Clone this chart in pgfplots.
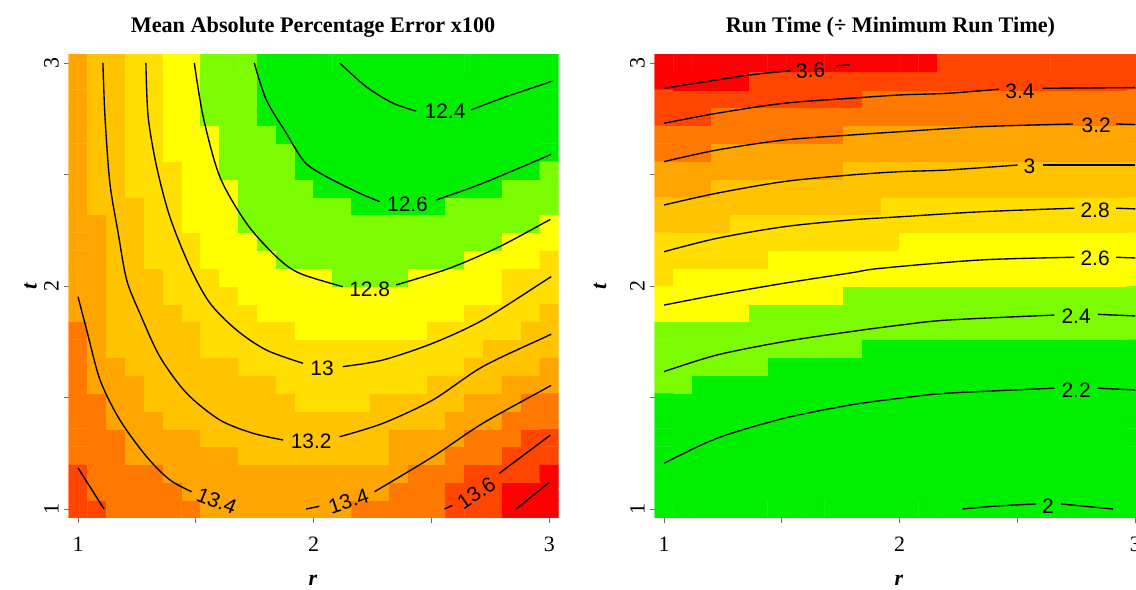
\documentclass[border=0pt]{standalone}
\usepackage{pgfplots}
\pgfplotsset{compat=1.18}
\usepackage{pgfplotstable}
\usepackage{fontspec}
\setmainfont{Liberation Serif}
\newfontfamily\sansf{Liberation Sans}
\definecolor{tickgray}{RGB}{110,110,110}

% left panel: class index of each cell (i = column, j = row)
\pgfplotstableread[row sep=\\]{
i j c\\
0 0 7\\ 1 0 7\\ 2 0 6\\ 3 0 6\\ 4 0 6\\ 5 0 6\\ 6 0 6\\ 7 0 5\\ 8 0 5\\ 9 0 5\\ 10 0 5\\ 11 0 5\\ 12 0 5\\ 13 0 5\\ 14 0 5\\ 15 0 6\\ 16 0 6\\ 17 0 6\\ 18 0 6\\ 19 0 6\\ 20 0 7\\ 21 0 7\\ 22 0 7\\ 23 0 8\\ 24 0 8\\ 25 0 8\\
0 1 7\\ 1 1 6\\ 2 1 6\\ 3 1 6\\ 4 1 6\\ 5 1 6\\ 6 1 5\\ 7 1 5\\ 8 1 5\\ 9 1 5\\ 10 1 5\\ 11 1 5\\ 12 1 5\\ 13 1 5\\ 14 1 5\\ 15 1 5\\ 16 1 5\\ 17 1 6\\ 18 1 6\\ 19 1 6\\ 20 1 7\\ 21 1 7\\ 22 1 7\\ 23 1 8\\ 24 1 8\\ 25 1 8\\
0 2 7\\ 1 2 6\\ 2 2 6\\ 3 2 6\\ 4 2 6\\ 5 2 5\\ 6 2 5\\ 7 2 5\\ 8 2 5\\ 9 2 5\\ 10 2 5\\ 11 2 5\\ 12 2 5\\ 13 2 5\\ 14 2 5\\ 15 2 5\\ 16 2 5\\ 17 2 5\\ 18 2 6\\ 19 2 6\\ 20 2 6\\ 21 2 7\\ 22 2 7\\ 23 2 7\\ 24 2 7\\ 25 2 8\\
0 3 6\\ 1 3 6\\ 2 3 6\\ 3 3 5\\ 4 3 5\\ 5 3 5\\ 6 3 5\\ 7 3 5\\ 8 3 5\\ 9 3 4\\ 10 3 4\\ 11 3 4\\ 12 3 4\\ 13 3 4\\ 14 3 4\\ 15 3 4\\ 16 3 4\\ 17 3 5\\ 18 3 5\\ 19 3 5\\ 20 3 6\\ 21 3 6\\ 22 3 6\\ 23 3 7\\ 24 3 7\\ 25 3 7\\
0 4 6\\ 1 4 6\\ 2 4 6\\ 3 4 5\\ 4 4 5\\ 5 4 5\\ 6 4 5\\ 7 4 4\\ 8 4 4\\ 9 4 4\\ 10 4 4\\ 11 4 4\\ 12 4 4\\ 13 4 4\\ 14 4 4\\ 15 4 4\\ 16 4 4\\ 17 4 5\\ 18 4 5\\ 19 4 5\\ 20 4 5\\ 21 4 6\\ 22 4 6\\ 23 4 6\\ 24 4 7\\ 25 4 7\\
0 5 6\\ 1 5 6\\ 2 5 5\\ 3 5 5\\ 4 5 5\\ 5 5 4\\ 6 5 4\\ 7 5 4\\ 8 5 4\\ 9 5 4\\ 10 5 4\\ 11 5 4\\ 12 5 4\\ 13 5 4\\ 14 5 4\\ 15 5 4\\ 16 5 4\\ 17 5 4\\ 18 5 4\\ 19 5 4\\ 20 5 5\\ 21 5 5\\ 22 5 5\\ 23 5 6\\ 24 5 6\\ 25 5 6\\
0 6 6\\ 1 6 6\\ 2 6 5\\ 3 6 5\\ 4 6 4\\ 5 6 4\\ 6 6 4\\ 7 6 4\\ 8 6 4\\ 9 6 4\\ 10 6 4\\ 11 6 4\\ 12 6 3\\ 13 6 3\\ 14 6 3\\ 15 6 3\\ 16 6 4\\ 17 6 4\\ 18 6 4\\ 19 6 4\\ 20 6 4\\ 21 6 5\\ 22 6 5\\ 23 6 5\\ 24 6 6\\ 25 6 6\\
0 7 6\\ 1 7 5\\ 2 7 5\\ 3 7 5\\ 4 7 4\\ 5 7 4\\ 6 7 4\\ 7 7 4\\ 8 7 4\\ 9 7 4\\ 10 7 4\\ 11 7 3\\ 12 7 3\\ 13 7 3\\ 14 7 3\\ 15 7 3\\ 16 7 3\\ 17 7 3\\ 18 7 3\\ 19 7 4\\ 20 7 4\\ 21 7 4\\ 22 7 4\\ 23 7 5\\ 24 7 5\\ 25 7 5\\
0 8 6\\ 1 8 5\\ 2 8 5\\ 3 8 4\\ 4 8 4\\ 5 8 4\\ 6 8 4\\ 7 8 4\\ 8 8 4\\ 9 8 3\\ 10 8 3\\ 11 8 3\\ 12 8 3\\ 13 8 3\\ 14 8 3\\ 15 8 3\\ 16 8 3\\ 17 8 3\\ 18 8 3\\ 19 8 3\\ 20 8 3\\ 21 8 4\\ 22 8 4\\ 23 8 4\\ 24 8 4\\ 25 8 5\\
0 9 6\\ 1 9 5\\ 2 9 4\\ 3 9 4\\ 4 9 4\\ 5 9 4\\ 6 9 4\\ 7 9 3\\ 8 9 3\\ 9 9 3\\ 10 9 3\\ 11 9 3\\ 12 9 3\\ 13 9 3\\ 14 9 3\\ 15 9 3\\ 16 9 3\\ 17 9 3\\ 18 9 3\\ 19 9 3\\ 20 9 3\\ 21 9 3\\ 22 9 4\\ 23 9 4\\ 24 9 4\\ 25 9 4\\
0 10 6\\ 1 10 5\\ 2 10 4\\ 3 10 4\\ 4 10 4\\ 5 10 4\\ 6 10 4\\ 7 10 3\\ 8 10 3\\ 9 10 3\\ 10 10 3\\ 11 10 3\\ 12 10 2\\ 13 10 2\\ 14 10 2\\ 15 10 2\\ 16 10 2\\ 17 10 2\\ 18 10 2\\ 19 10 3\\ 20 10 3\\ 21 10 3\\ 22 10 3\\ 23 10 3\\ 24 10 4\\ 25 10 4\\
0 11 5\\ 1 11 5\\ 2 11 4\\ 3 11 4\\ 4 11 4\\ 5 11 4\\ 6 11 3\\ 7 11 3\\ 8 11 3\\ 9 11 3\\ 10 11 2\\ 11 11 2\\ 12 11 2\\ 13 11 2\\ 14 11 2\\ 15 11 2\\ 16 11 2\\ 17 11 2\\ 18 11 2\\ 19 11 2\\ 20 11 2\\ 21 11 3\\ 22 11 3\\ 23 11 3\\ 24 11 3\\ 25 11 4\\
0 12 5\\ 1 12 5\\ 2 12 4\\ 3 12 4\\ 4 12 4\\ 5 12 3\\ 6 12 3\\ 7 12 3\\ 8 12 3\\ 9 12 2\\ 10 12 2\\ 11 12 2\\ 12 12 2\\ 13 12 2\\ 14 12 2\\ 15 12 2\\ 16 12 2\\ 17 12 2\\ 18 12 2\\ 19 12 2\\ 20 12 2\\ 21 12 2\\ 22 12 2\\ 23 12 3\\ 24 12 3\\ 25 12 3\\
0 13 5\\ 1 13 5\\ 2 13 4\\ 3 13 4\\ 4 13 4\\ 5 13 3\\ 6 13 3\\ 7 13 3\\ 8 13 2\\ 9 13 2\\ 10 13 2\\ 11 13 2\\ 12 13 2\\ 13 13 2\\ 14 13 1\\ 15 13 1\\ 16 13 1\\ 17 13 1\\ 18 13 2\\ 19 13 2\\ 20 13 2\\ 21 13 2\\ 22 13 2\\ 23 13 3\\ 24 13 3\\ 25 13 3\\
0 14 5\\ 1 14 5\\ 2 14 4\\ 3 14 4\\ 4 14 3\\ 5 14 3\\ 6 14 3\\ 7 14 2\\ 8 14 2\\ 9 14 2\\ 10 14 2\\ 11 14 1\\ 12 14 1\\ 13 14 1\\ 14 14 1\\ 15 14 1\\ 16 14 1\\ 17 14 1\\ 18 14 1\\ 19 14 1\\ 20 14 1\\ 21 14 2\\ 22 14 2\\ 23 14 2\\ 24 14 2\\ 25 14 3\\
0 15 5\\ 1 15 5\\ 2 15 4\\ 3 15 4\\ 4 15 3\\ 5 15 3\\ 6 15 3\\ 7 15 2\\ 8 15 2\\ 9 15 2\\ 10 15 1\\ 11 15 1\\ 12 15 1\\ 13 15 1\\ 14 15 1\\ 15 15 1\\ 16 15 1\\ 17 15 1\\ 18 15 1\\ 19 15 1\\ 20 15 1\\ 21 15 1\\ 22 15 1\\ 23 15 2\\ 24 15 2\\ 25 15 2\\
0 16 5\\ 1 16 5\\ 2 16 4\\ 3 16 4\\ 4 16 3\\ 5 16 3\\ 6 16 2\\ 7 16 2\\ 8 16 2\\ 9 16 1\\ 10 16 1\\ 11 16 1\\ 12 16 1\\ 13 16 1\\ 14 16 1\\ 15 16 1\\ 16 16 1\\ 17 16 1\\ 18 16 1\\ 19 16 1\\ 20 16 1\\ 21 16 1\\ 22 16 1\\ 23 16 1\\ 24 16 1\\ 25 16 2\\
0 17 5\\ 1 17 4\\ 2 17 4\\ 3 17 4\\ 4 17 3\\ 5 17 3\\ 6 17 2\\ 7 17 2\\ 8 17 2\\ 9 17 1\\ 10 17 1\\ 11 17 1\\ 12 17 1\\ 13 17 1\\ 14 17 1\\ 15 17 0\\ 16 17 0\\ 17 17 0\\ 18 17 0\\ 19 17 0\\ 20 17 1\\ 21 17 1\\ 22 17 1\\ 23 17 1\\ 24 17 1\\ 25 17 1\\
0 18 5\\ 1 18 4\\ 2 18 4\\ 3 18 3\\ 4 18 3\\ 5 18 3\\ 6 18 2\\ 7 18 2\\ 8 18 2\\ 9 18 1\\ 10 18 1\\ 11 18 1\\ 12 18 1\\ 13 18 0\\ 14 18 0\\ 15 18 0\\ 16 18 0\\ 17 18 0\\ 18 18 0\\ 19 18 0\\ 20 18 0\\ 21 18 0\\ 22 18 0\\ 23 18 1\\ 24 18 1\\ 25 18 1\\
0 19 5\\ 1 19 4\\ 2 19 4\\ 3 19 3\\ 4 19 3\\ 5 19 3\\ 6 19 2\\ 7 19 2\\ 8 19 1\\ 9 19 1\\ 10 19 1\\ 11 19 1\\ 12 19 0\\ 13 19 0\\ 14 19 0\\ 15 19 0\\ 16 19 0\\ 17 19 0\\ 18 19 0\\ 19 19 0\\ 20 19 0\\ 21 19 0\\ 22 19 0\\ 23 19 0\\ 24 19 0\\ 25 19 1\\
0 20 5\\ 1 20 4\\ 2 20 4\\ 3 20 3\\ 4 20 3\\ 5 20 2\\ 6 20 2\\ 7 20 2\\ 8 20 1\\ 9 20 1\\ 10 20 1\\ 11 20 1\\ 12 20 0\\ 13 20 0\\ 14 20 0\\ 15 20 0\\ 16 20 0\\ 17 20 0\\ 18 20 0\\ 19 20 0\\ 20 20 0\\ 21 20 0\\ 22 20 0\\ 23 20 0\\ 24 20 0\\ 25 20 0\\
0 21 5\\ 1 21 4\\ 2 21 4\\ 3 21 3\\ 4 21 3\\ 5 21 2\\ 6 21 2\\ 7 21 2\\ 8 21 1\\ 9 21 1\\ 10 21 1\\ 11 21 0\\ 12 21 0\\ 13 21 0\\ 14 21 0\\ 15 21 0\\ 16 21 0\\ 17 21 0\\ 18 21 0\\ 19 21 0\\ 20 21 0\\ 21 21 0\\ 22 21 0\\ 23 21 0\\ 24 21 0\\ 25 21 0\\
0 22 5\\ 1 22 4\\ 2 22 4\\ 3 22 3\\ 4 22 3\\ 5 22 2\\ 6 22 2\\ 7 22 1\\ 8 22 1\\ 9 22 1\\ 10 22 0\\ 11 22 0\\ 12 22 0\\ 13 22 0\\ 14 22 0\\ 15 22 0\\ 16 22 0\\ 17 22 0\\ 18 22 0\\ 19 22 0\\ 20 22 0\\ 21 22 0\\ 22 22 0\\ 23 22 0\\ 24 22 0\\ 25 22 0\\
0 23 5\\ 1 23 4\\ 2 23 4\\ 3 23 3\\ 4 23 3\\ 5 23 2\\ 6 23 2\\ 7 23 1\\ 8 23 1\\ 9 23 1\\ 10 23 0\\ 11 23 0\\ 12 23 0\\ 13 23 0\\ 14 23 0\\ 15 23 0\\ 16 23 0\\ 17 23 0\\ 18 23 0\\ 19 23 0\\ 20 23 0\\ 21 23 0\\ 22 23 0\\ 23 23 0\\ 24 23 0\\ 25 23 0\\
0 24 5\\ 1 24 4\\ 2 24 4\\ 3 24 3\\ 4 24 3\\ 5 24 2\\ 6 24 2\\ 7 24 1\\ 8 24 1\\ 9 24 1\\ 10 24 0\\ 11 24 0\\ 12 24 0\\ 13 24 0\\ 14 24 0\\ 15 24 0\\ 16 24 0\\ 17 24 0\\ 18 24 0\\ 19 24 0\\ 20 24 0\\ 21 24 0\\ 22 24 0\\ 23 24 0\\ 24 24 0\\ 25 24 0\\
0 25 5\\ 1 25 4\\ 2 25 4\\ 3 25 3\\ 4 25 3\\ 5 25 2\\ 6 25 2\\ 7 25 1\\ 8 25 1\\ 9 25 1\\ 10 25 0\\ 11 25 0\\ 12 25 0\\ 13 25 0\\ 14 25 0\\ 15 25 0\\ 16 25 0\\ 17 25 0\\ 18 25 0\\ 19 25 0\\ 20 25 0\\ 21 25 0\\ 22 25 0\\ 23 25 0\\ 24 25 0\\ 25 25 0\\
}\leftdata

% right panel
\pgfplotstableread[row sep=\\]{
i j c\\
0 0 0\\ 1 0 0\\ 2 0 0\\ 3 0 0\\ 4 0 0\\ 5 0 0\\ 6 0 0\\ 7 0 0\\ 8 0 0\\ 9 0 0\\ 10 0 0\\ 11 0 0\\ 12 0 0\\ 13 0 0\\ 14 0 0\\ 15 0 0\\ 16 0 0\\ 17 0 0\\ 18 0 0\\ 19 0 0\\ 20 0 0\\ 21 0 0\\ 22 0 0\\ 23 0 0\\ 24 0 0\\ 25 0 0\\
0 1 0\\ 1 1 0\\ 2 1 0\\ 3 1 0\\ 4 1 0\\ 5 1 0\\ 6 1 0\\ 7 1 0\\ 8 1 0\\ 9 1 0\\ 10 1 0\\ 11 1 0\\ 12 1 0\\ 13 1 0\\ 14 1 0\\ 15 1 0\\ 16 1 0\\ 17 1 0\\ 18 1 0\\ 19 1 0\\ 20 1 0\\ 21 1 0\\ 22 1 0\\ 23 1 0\\ 24 1 0\\ 25 1 0\\
0 2 0\\ 1 2 0\\ 2 2 0\\ 3 2 0\\ 4 2 0\\ 5 2 0\\ 6 2 0\\ 7 2 0\\ 8 2 0\\ 9 2 0\\ 10 2 0\\ 11 2 0\\ 12 2 0\\ 13 2 0\\ 14 2 0\\ 15 2 0\\ 16 2 0\\ 17 2 0\\ 18 2 0\\ 19 2 0\\ 20 2 0\\ 21 2 0\\ 22 2 0\\ 23 2 0\\ 24 2 0\\ 25 2 0\\
0 3 0\\ 1 3 0\\ 2 3 0\\ 3 3 0\\ 4 3 0\\ 5 3 0\\ 6 3 0\\ 7 3 0\\ 8 3 0\\ 9 3 0\\ 10 3 0\\ 11 3 0\\ 12 3 0\\ 13 3 0\\ 14 3 0\\ 15 3 0\\ 16 3 0\\ 17 3 0\\ 18 3 0\\ 19 3 0\\ 20 3 0\\ 21 3 0\\ 22 3 0\\ 23 3 0\\ 24 3 0\\ 25 3 0\\
0 4 0\\ 1 4 0\\ 2 4 0\\ 3 4 0\\ 4 4 0\\ 5 4 0\\ 6 4 0\\ 7 4 0\\ 8 4 0\\ 9 4 0\\ 10 4 0\\ 11 4 0\\ 12 4 0\\ 13 4 0\\ 14 4 0\\ 15 4 0\\ 16 4 0\\ 17 4 0\\ 18 4 0\\ 19 4 0\\ 20 4 0\\ 21 4 0\\ 22 4 0\\ 23 4 0\\ 24 4 0\\ 25 4 0\\
0 5 0\\ 1 5 0\\ 2 5 0\\ 3 5 0\\ 4 5 0\\ 5 5 0\\ 6 5 0\\ 7 5 0\\ 8 5 0\\ 9 5 0\\ 10 5 0\\ 11 5 0\\ 12 5 0\\ 13 5 0\\ 14 5 0\\ 15 5 0\\ 16 5 0\\ 17 5 0\\ 18 5 0\\ 19 5 0\\ 20 5 0\\ 21 5 0\\ 22 5 0\\ 23 5 0\\ 24 5 0\\ 25 5 0\\
0 6 0\\ 1 6 0\\ 2 6 0\\ 3 6 0\\ 4 6 0\\ 5 6 0\\ 6 6 0\\ 7 6 0\\ 8 6 0\\ 9 6 0\\ 10 6 0\\ 11 6 0\\ 12 6 0\\ 13 6 0\\ 14 6 0\\ 15 6 0\\ 16 6 0\\ 17 6 0\\ 18 6 0\\ 19 6 0\\ 20 6 0\\ 21 6 0\\ 22 6 0\\ 23 6 0\\ 24 6 0\\ 25 6 0\\
0 7 1\\ 1 7 1\\ 2 7 0\\ 3 7 0\\ 4 7 0\\ 5 7 0\\ 6 7 0\\ 7 7 0\\ 8 7 0\\ 9 7 0\\ 10 7 0\\ 11 7 0\\ 12 7 0\\ 13 7 0\\ 14 7 0\\ 15 7 0\\ 16 7 0\\ 17 7 0\\ 18 7 0\\ 19 7 0\\ 20 7 0\\ 21 7 0\\ 22 7 0\\ 23 7 0\\ 24 7 0\\ 25 7 0\\
0 8 1\\ 1 8 1\\ 2 8 1\\ 3 8 1\\ 4 8 1\\ 5 8 1\\ 6 8 0\\ 7 8 0\\ 8 8 0\\ 9 8 0\\ 10 8 0\\ 11 8 0\\ 12 8 0\\ 13 8 0\\ 14 8 0\\ 15 8 0\\ 16 8 0\\ 17 8 0\\ 18 8 0\\ 19 8 0\\ 20 8 0\\ 21 8 0\\ 22 8 0\\ 23 8 0\\ 24 8 0\\ 25 8 0\\
0 9 1\\ 1 9 1\\ 2 9 1\\ 3 9 1\\ 4 9 1\\ 5 9 1\\ 6 9 1\\ 7 9 1\\ 8 9 1\\ 9 9 1\\ 10 9 1\\ 11 9 0\\ 12 9 0\\ 13 9 0\\ 14 9 0\\ 15 9 0\\ 16 9 0\\ 17 9 0\\ 18 9 0\\ 19 9 0\\ 20 9 0\\ 21 9 0\\ 22 9 0\\ 23 9 0\\ 24 9 0\\ 25 9 0\\
0 10 1\\ 1 10 1\\ 2 10 1\\ 3 10 1\\ 4 10 1\\ 5 10 1\\ 6 10 1\\ 7 10 1\\ 8 10 1\\ 9 10 1\\ 10 10 1\\ 11 10 1\\ 12 10 1\\ 13 10 1\\ 14 10 1\\ 15 10 1\\ 16 10 1\\ 17 10 1\\ 18 10 1\\ 19 10 1\\ 20 10 1\\ 21 10 1\\ 22 10 1\\ 23 10 1\\ 24 10 1\\ 25 10 1\\
0 11 2\\ 1 11 2\\ 2 11 2\\ 3 11 2\\ 4 11 2\\ 5 11 1\\ 6 11 1\\ 7 11 1\\ 8 11 1\\ 9 11 1\\ 10 11 1\\ 11 11 1\\ 12 11 1\\ 13 11 1\\ 14 11 1\\ 15 11 1\\ 16 11 1\\ 17 11 1\\ 18 11 1\\ 19 11 1\\ 20 11 1\\ 21 11 1\\ 22 11 1\\ 23 11 1\\ 24 11 1\\ 25 11 1\\
0 12 2\\ 1 12 2\\ 2 12 2\\ 3 12 2\\ 4 12 2\\ 5 12 2\\ 6 12 2\\ 7 12 2\\ 8 12 2\\ 9 12 2\\ 10 12 1\\ 11 12 1\\ 12 12 1\\ 13 12 1\\ 14 12 1\\ 15 12 1\\ 16 12 1\\ 17 12 1\\ 18 12 1\\ 19 12 1\\ 20 12 1\\ 21 12 1\\ 22 12 1\\ 23 12 1\\ 24 12 1\\ 25 12 1\\
0 13 3\\ 1 13 2\\ 2 13 2\\ 3 13 2\\ 4 13 2\\ 5 13 2\\ 6 13 2\\ 7 13 2\\ 8 13 2\\ 9 13 2\\ 10 13 2\\ 11 13 2\\ 12 13 2\\ 13 13 2\\ 14 13 2\\ 15 13 2\\ 16 13 2\\ 17 13 2\\ 18 13 2\\ 19 13 2\\ 20 13 2\\ 21 13 2\\ 22 13 2\\ 23 13 2\\ 24 13 2\\ 25 13 2\\
0 14 3\\ 1 14 3\\ 2 14 3\\ 3 14 3\\ 4 14 3\\ 5 14 3\\ 6 14 2\\ 7 14 2\\ 8 14 2\\ 9 14 2\\ 10 14 2\\ 11 14 2\\ 12 14 2\\ 13 14 2\\ 14 14 2\\ 15 14 2\\ 16 14 2\\ 17 14 2\\ 18 14 2\\ 19 14 2\\ 20 14 2\\ 21 14 2\\ 22 14 2\\ 23 14 2\\ 24 14 2\\ 25 14 2\\
0 15 3\\ 1 15 3\\ 2 15 3\\ 3 15 3\\ 4 15 3\\ 5 15 3\\ 6 15 3\\ 7 15 3\\ 8 15 3\\ 9 15 3\\ 10 15 3\\ 11 15 3\\ 12 15 3\\ 13 15 2\\ 14 15 2\\ 15 15 2\\ 16 15 2\\ 17 15 2\\ 18 15 2\\ 19 15 2\\ 20 15 2\\ 21 15 2\\ 22 15 2\\ 23 15 2\\ 24 15 2\\ 25 15 2\\
0 16 4\\ 1 16 4\\ 2 16 4\\ 3 16 4\\ 4 16 3\\ 5 16 3\\ 6 16 3\\ 7 16 3\\ 8 16 3\\ 9 16 3\\ 10 16 3\\ 11 16 3\\ 12 16 3\\ 13 16 3\\ 14 16 3\\ 15 16 3\\ 16 16 3\\ 17 16 3\\ 18 16 3\\ 19 16 3\\ 20 16 3\\ 21 16 3\\ 22 16 3\\ 23 16 3\\ 24 16 3\\ 25 16 3\\
0 17 4\\ 1 17 4\\ 2 17 4\\ 3 17 4\\ 4 17 4\\ 5 17 4\\ 6 17 4\\ 7 17 4\\ 8 17 4\\ 9 17 4\\ 10 17 4\\ 11 17 4\\ 12 17 3\\ 13 17 3\\ 14 17 3\\ 15 17 3\\ 16 17 3\\ 17 17 3\\ 18 17 3\\ 19 17 3\\ 20 17 3\\ 21 17 3\\ 22 17 3\\ 23 17 3\\ 24 17 3\\ 25 17 3\\
0 18 5\\ 1 18 5\\ 2 18 5\\ 3 18 4\\ 4 18 4\\ 5 18 4\\ 6 18 4\\ 7 18 4\\ 8 18 4\\ 9 18 4\\ 10 18 4\\ 11 18 4\\ 12 18 4\\ 13 18 4\\ 14 18 4\\ 15 18 4\\ 16 18 4\\ 17 18 4\\ 18 18 4\\ 19 18 4\\ 20 18 4\\ 21 18 4\\ 22 18 4\\ 23 18 4\\ 24 18 4\\ 25 18 4\\
0 19 5\\ 1 19 5\\ 2 19 5\\ 3 19 5\\ 4 19 5\\ 5 19 5\\ 6 19 5\\ 7 19 5\\ 8 19 5\\ 9 19 5\\ 10 19 4\\ 11 19 4\\ 12 19 4\\ 13 19 4\\ 14 19 4\\ 15 19 4\\ 16 19 4\\ 17 19 4\\ 18 19 4\\ 19 19 4\\ 20 19 4\\ 21 19 4\\ 22 19 4\\ 23 19 4\\ 24 19 4\\ 25 19 4\\
0 20 6\\ 1 20 6\\ 2 20 6\\ 3 20 5\\ 4 20 5\\ 5 20 5\\ 6 20 5\\ 7 20 5\\ 8 20 5\\ 9 20 5\\ 10 20 5\\ 11 20 5\\ 12 20 5\\ 13 20 5\\ 14 20 5\\ 15 20 5\\ 16 20 5\\ 17 20 5\\ 18 20 5\\ 19 20 5\\ 20 20 5\\ 21 20 5\\ 22 20 5\\ 23 20 5\\ 24 20 5\\ 25 20 5\\
0 21 6\\ 1 21 6\\ 2 21 6\\ 3 21 6\\ 4 21 6\\ 5 21 6\\ 6 21 6\\ 7 21 6\\ 8 21 6\\ 9 21 6\\ 10 21 5\\ 11 21 5\\ 12 21 5\\ 13 21 5\\ 14 21 5\\ 15 21 5\\ 16 21 5\\ 17 21 5\\ 18 21 5\\ 19 21 5\\ 20 21 5\\ 21 21 5\\ 22 21 5\\ 23 21 5\\ 24 21 5\\ 25 21 5\\
0 22 7\\ 1 22 7\\ 2 22 7\\ 3 22 6\\ 4 22 6\\ 5 22 6\\ 6 22 6\\ 7 22 6\\ 8 22 6\\ 9 22 6\\ 10 22 6\\ 11 22 6\\ 12 22 6\\ 13 22 6\\ 14 22 6\\ 15 22 6\\ 16 22 6\\ 17 22 6\\ 18 22 6\\ 19 22 6\\ 20 22 6\\ 21 22 6\\ 22 22 6\\ 23 22 6\\ 24 22 6\\ 25 22 6\\
0 23 7\\ 1 23 7\\ 2 23 7\\ 3 23 7\\ 4 23 7\\ 5 23 7\\ 6 23 7\\ 7 23 7\\ 8 23 7\\ 9 23 7\\ 10 23 7\\ 11 23 6\\ 12 23 6\\ 13 23 6\\ 14 23 6\\ 15 23 6\\ 16 23 6\\ 17 23 6\\ 18 23 6\\ 19 23 6\\ 20 23 6\\ 21 23 6\\ 22 23 6\\ 23 23 6\\ 24 23 6\\ 25 23 6\\
0 24 8\\ 1 24 8\\ 2 24 8\\ 3 24 8\\ 4 24 8\\ 5 24 7\\ 6 24 7\\ 7 24 7\\ 8 24 7\\ 9 24 7\\ 10 24 7\\ 11 24 7\\ 12 24 7\\ 13 24 7\\ 14 24 7\\ 15 24 7\\ 16 24 7\\ 17 24 7\\ 18 24 7\\ 19 24 7\\ 20 24 7\\ 21 24 7\\ 22 24 7\\ 23 24 7\\ 24 24 7\\ 25 24 7\\
0 25 8\\ 1 25 8\\ 2 25 8\\ 3 25 8\\ 4 25 8\\ 5 25 8\\ 6 25 8\\ 7 25 8\\ 8 25 8\\ 9 25 8\\ 10 25 8\\ 11 25 8\\ 12 25 8\\ 13 25 8\\ 14 25 8\\ 15 25 7\\ 16 25 7\\ 17 25 7\\ 18 25 7\\ 19 25 7\\ 20 25 7\\ 21 25 7\\ 22 25 7\\ 23 25 7\\ 24 25 7\\ 25 25 7\\
}\rightdata

\pgfplotsset{
  panel/.style={
    scale only axis, width=490.1bp, height=463.84bp, anchor=south west,
    xmin=-0.5, xmax=25.5, ymin=-0.5, ymax=25.5,
    axis x line*=bottom, axis y line*=left,
    axis line style={draw=none},
    xtick={0,6.25,12.5,18.75,25}, xticklabels={1,,2,,3},
    ytick={0,6.25,12.5,18.75,25}, yticklabels={1,,2,,3},
    tick align=outside, major tick length=5bp,
    major tick style={tickgray, line width=0.7bp},
    tick label style={font=\fontsize{22}{24}\selectfont, text=black},
    xticklabel style={anchor=base, yshift=-29bp},
    yticklabel style={xshift=-5bp, rotate=90, anchor=base},
    colormap={cls}{rgb255=(0,240,0) rgb255=(124,252,0) rgb255=(255,255,0) rgb255=(255,222,0) rgb255=(255,195,0) rgb255=(255,165,0) rgb255=(255,120,0) rgb255=(255,69,0) rgb255=(255,0,0)},
    colormap access=direct,
  },
  cline/.style={black, line width=1.35bp, smooth, tension=0.5, no marks},
}
\newcommand\clab{\sansf\fontsize{21}{21}\selectfont}

\begin{document}
\begin{tikzpicture}
\path[use as bounding box] (0,0) rectangle (1136bp,590bp);

\begin{axis}[panel, at={(68.6bp,72.1bp)}]
\addplot[matrix plot*, mesh/cols=26, point meta=explicit] table[x=i, y=j, meta=c] {\leftdata};
% 12.4
\addplot[cline] coordinates {(13.88,25) (15.29,23.67) (16.68,22.76) (17.94,22.31)};
\addplot[cline] coordinates {(20.85,22.37) (22.71,23.11) (24.83,23.86) (25,23.94)};
% 12.6
\addplot[cline] coordinates {(9.35,25) (9.99,22.93) (11.05,21.06) (12.02,19.45) (13.17,18.63) (14.94,17.70) (16.0,17.23)};
\addplot[cline] coordinates {(19.0,17.32) (21.47,18.26) (24.83,19.75) (25,19.84)};
% 12.8
\addplot[cline] coordinates {(6.17,25) (6.64,21.99) (7.52,18.63) (8.94,16.01) (10.52,14.14) (11.76,13.21) (14.05,12.46)};
\addplot[cline] coordinates {(16.88,12.56) (19.70,13.49) (22.35,14.70) (24.83,16.10) (25,16.2)};
% 13.0
\addplot[cline] coordinates {(3.60,25) (3.72,21.99) (4.17,19.19) (4.87,16.38) (5.93,13.58) (6.99,11.55) (8.41,10.03) (9.99,8.91) (11.93,8.17)};
\addplot[cline] coordinates {(14.05,7.98) (16.17,8.35) (18.82,9.29) (21.47,10.59) (24.83,12.84) (25,12.95)};
% 13.2
\addplot[cline] coordinates {(1.32,25) (1.43,21.99) (1.69,18.27) (2.13,15.47) (2.58,12.84) (3.28,10.97) (4.34,8.54) (5.76,6.49) (7.52,4.99) (9.29,4.24) (10.87,3.87)};
\addplot[cline] coordinates {(13.88,4.05) (16.17,4.80) (18.82,6.11) (21.47,7.98) (24.83,9.66) (25,9.75)};
% 13.4
\addplot[cline] coordinates {(0,11.9) (0.46,10.03) (1.17,7.23) (2.22,4.99) (3.64,2.93) (4.87,1.63) (6.02,0.97)};
\addplot[cline] coordinates {(12.1,0) (12.8,0.15)};
\addplot[cline] coordinates {(15.73,0.97) (18.82,2.93) (21.47,4.80) (24.83,6.77) (25,6.87)};
% 13.6
\addplot[cline] coordinates {(0,2.3) (1.38,0)};
\addplot[cline] coordinates {(19.44,0) (19.86,0.2)};
\addplot[cline] coordinates {(22.35,2.0) (24.83,3.96) (25,4.09)};
% 13.8
\addplot[cline] coordinates {(23.24,0) (25,1.49)};
\node[font=\clab] at (axis cs:19.47,22.31) {12.4};
\node[font=\clab] at (axis cs:17.48,17.07) {12.6};
\node[font=\clab] at (axis cs:15.47,12.33) {12.8};
\node[font=\clab] at (axis cs:12.95,7.88) {13};
\node[font=\clab] at (axis cs:12.37,3.81) {13.2};
\node[font=\clab, rotate=-22] at (axis cs:7.36,0.45) {13.4};
\node[font=\clab, rotate=18] at (axis cs:14.35,0.45) {13.4};
\node[font=\clab, rotate=34] at (axis cs:21.13,0.9) {13.6};
\end{axis}

\begin{axis}[panel, at={(654.6bp,72.1bp)}]
\addplot[matrix plot*, mesh/cols=26, point meta=explicit] table[x=i, y=j, meta=c] {\rightdata};
% 3.6
\addplot[cline] coordinates {(0,23.58) (2.80,24.05) (4.57,24.33) (6.70,24.57)};
\addplot[cline] coordinates {(9.10,24.83) (9.86,24.90)};
% 3.4
\addplot[cline] coordinates {(0,21.62) (2.80,22.18) (6.35,22.74) (9.89,23.02) (12.55,23.21) (15.04,23.30) (17.78,23.53)};
\addplot[cline] coordinates {(20.09,23.58) (25,23.62)};
% 3.2
\addplot[cline] coordinates {(0,19.47) (2.80,20.12) (6.35,20.68) (9.89,20.96) (12.55,21.15) (16.81,21.43) (21.69,21.58)};
\addplot[cline] coordinates {(23.99,21.58) (25,21.55)};
% 3.0
\addplot[cline] coordinates {(0,17.04) (2.80,17.70) (6.35,18.35) (9.89,18.72) (12.55,18.91) (15.04,19.0) (18.76,19.28)};
\addplot[cline] coordinates {(20.09,19.28) (25,19.28)};
% 2.8
\addplot[cline] coordinates {(0,14.42) (2.80,15.17) (6.35,15.82) (9.89,16.20) (12.55,16.38) (16.81,16.66) (21.77,16.86)};
\addplot[cline] coordinates {(23.99,16.86) (25,16.82)};
% 2.6
\addplot[cline] coordinates {(0,11.43) (2.80,12.0) (6.35,12.65) (9.89,13.23) (11.49,13.49) (16.81,13.96) (21.77,14.11)};
\addplot[cline] coordinates {(23.99,14.11) (25,14.07)};
% 2.4
\addplot[cline] coordinates {(0,7.70) (2.80,8.63) (6.35,9.38) (9.89,9.94) (12.55,10.31) (15.04,10.59) (20.71,10.87)};
\addplot[cline] coordinates {(23.02,10.91) (25,10.82)};
% 2.2
\addplot[cline] coordinates {(0,2.56) (2.80,3.96) (6.35,5.08) (9.89,5.83) (12.55,6.21) (15.04,6.49) (20.71,6.77)};
\addplot[cline] coordinates {(23.02,6.77) (25,6.67)};
% 2.0
\addplot[cline] coordinates {(15.84,0) (17.70,0.17) (19.73,0.28)};
\addplot[cline] coordinates {(21.06,0.28) (23.81,0)};
\node[font=\clab, rotate=3] at (axis cs:7.77,24.58) {3.6};
\node[font=\clab] at (axis cs:18.88,23.43) {3.4};
\node[font=\clab] at (axis cs:22.93,21.5) {3.2};
\node[font=\clab] at (axis cs:19.39,19.2) {3};
\node[font=\clab] at (axis cs:22.87,16.76) {2.8};
\node[font=\clab] at (axis cs:22.87,14.05) {2.6};
\node[font=\clab] at (axis cs:21.86,10.78) {2.4};
\node[font=\clab] at (axis cs:21.86,6.67) {2.2};
\node[font=\clab] at (axis cs:20.37,0.17) {2};
\end{axis}

\node[anchor=base, font=\bfseries\fontsize{22.3}{24}\selectfont] at (313bp,557bp) {Mean Absolute Percentage Error x100};
\node[anchor=base, font=\bfseries\fontsize{22.3}{24}\selectfont] at (890.5bp,557bp) {Run Time (÷ Minimum Run Time)};
\node[anchor=base, font=\bfseries\itshape\fontsize{22}{24}\selectfont] at (313bp,5bp) {r};
\node[anchor=base, font=\bfseries\itshape\fontsize{22}{24}\selectfont] at (899bp,5bp) {r};
\node[rotate=90, anchor=base, font=\bfseries\itshape\fontsize{22}{24}\selectfont] at (36.5bp,304bp) {t};
\node[rotate=90, anchor=base, font=\bfseries\itshape\fontsize{22}{24}\selectfont] at (606bp,304bp) {t};
\end{tikzpicture}
\end{document}
